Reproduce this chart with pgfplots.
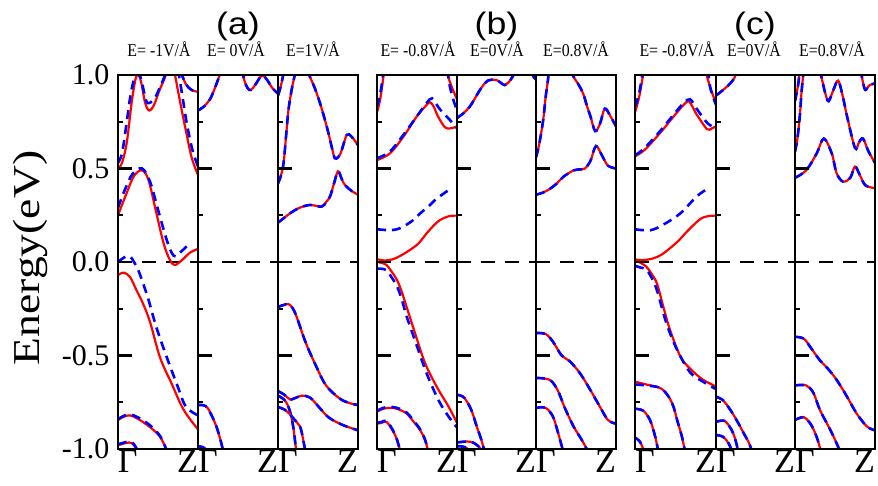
\documentclass[border=0pt]{standalone}
\usepackage{fontspec}
\setmainfont{Liberation Serif}
\newfontfamily\sansf{Liberation Sans}
\usepackage{pgfplots}
\pgfplotsset{compat=1.18}
\pgfplotsset{
  band/.style={scale only axis, width=80pt, height=374pt, anchor=south west,
    xmin=0, xmax=1, ymin=-1, ymax=1, axis on top,
    axis line style={line width=2.4pt},
    xtick={0,1}, xticklabels={\rlap{Γ},\llap{Z}},
    xticklabel style={font=\fontsize{34}{36}\selectfont, yshift=2pt},
    xtick style={draw=none},
    ytick={-1,-0.5,0,0.5,1}, minor ytick={-0.75,-0.25,0.25,0.75},
    ytick pos=left, tick align=inside,
    major tick length=14pt, minor tick length=5pt,
    ytick style={line width=2.4pt, black},
    minor y tick style={line width=1.6pt, black},
    yticklabels={}, 
  },
  rl/.style={red, line width=2.2pt, smooth, tension=0.55, no markers},
  bl/.style={blue, line width=2.6pt, smooth, tension=0.55, no markers, dash pattern=on 9pt off 6pt},
  zl/.style={black, line width=2.2pt, no markers, dash pattern=on 14pt off 10pt},
}
\newcommand\rb[1]{\addplot[rl] coordinates {#1};}
\newcommand\bb[1]{\addplot[bl] coordinates {#1};}
\newcommand\both[1]{\addplot[rl] coordinates {#1};\addplot[bl] coordinates {#1};}
\newcommand\zero{\addplot[zl] coordinates {(0,0)(1,0)};}
\begin{document}
\begin{tikzpicture}[x=1pt,y=1pt]
\path[use as bounding box] (0,0) rectangle (878,485);
% ---------------- (a)-1
\begin{axis}[band, at={(118pt,36pt)},
  yticklabels={\mbox{-1.0},\mbox{-0.5},\mbox{0.0},\mbox{0.5},\mbox{1.0}},
  yticklabel style={font=\fontsize{30}{32}\selectfont, xshift=-5pt}]
\zero
\rb{(0,0.50)(0.05,0.53)(0.11,0.64)(0.17,0.85)(0.22,0.98)(0.255,1.0)(0.29,0.96)(0.34,0.85)(0.39,0.81)(0.45,0.84)(0.52,0.92)(0.58,0.98)(0.62,1.03)}
\rb{(0.70,1.03)(0.77,0.87)(0.84,0.72)(0.92,0.56)(1.0,0.465)}
\rb{(0.78,1.02)(0.85,0.95)(0.92,0.92)(1.0,0.91)}
\rb{(0,0.25)(0.1,0.36)(0.2,0.46)(0.3,0.49)(0.38,0.44)(0.47,0.28)(0.57,0.10)(0.65,0.01)(0.71,-0.016)(0.8,0.01)(0.9,0.05)(1.0,0.07)}
\rb{(0,-0.07)(0.07,-0.057)(0.15,-0.08)(0.23,-0.15)(0.31,-0.22)(0.40,-0.32)(0.525,-0.51)(0.67,-0.65)(0.82,-0.79)(1.0,-0.895)}
\rb{(0,-0.845)(0.15,-0.82)(0.36,-0.87)(0.525,-0.935)(0.62,-1.02)}
\rb{(0,-0.98)(0.14,-0.965)(0.2,-0.98)(0.26,-1.02)}
\bb{(0,0.53)(0.05,0.58)(0.1,0.72)(0.16,0.9)(0.22,1.0)(0.28,0.99)(0.33,0.9)(0.37,0.85)(0.45,0.87)(0.52,0.93)(0.58,0.99)(0.61,1.03)}
\bb{(0.75,1.03)(0.8,0.9)(0.86,0.74)(0.93,0.6)(1.0,0.51)}
\bb{(0.78,1.02)(0.85,0.95)(0.92,0.92)(1.0,0.91)}
\bb{(0,0.29)(0.08,0.38)(0.18,0.47)(0.3,0.50)(0.4,0.43)(0.5,0.28)(0.6,0.13)(0.67,0.05)(0.72,0.03)(0.8,0.06)(0.9,0.10)}
\bb{(0,0.0)(0.08,0.025)(0.15,0.03)(0.2,0.0)(0.25,-0.04)(0.31,-0.11)(0.38,-0.2)(0.48,-0.35)(0.61,-0.51)(0.75,-0.67)(0.85,-0.775)(1.0,-0.82)}
\bb{(0,-0.84)(0.15,-0.815)(0.36,-0.86)(0.525,-0.93)(0.62,-1.02)}
\bb{(0,-0.975)(0.14,-0.96)(0.2,-0.975)(0.26,-1.02)}
\end{axis}
% ---------------- (a)-2
\begin{axis}[band, at={(198pt,36pt)}]
\zero
\both{(0,0.81)(0.07,0.83)(0.15,0.87)(0.22,0.94)(0.27,1.0)(0.29,1.03)}
\both{(0.55,1.03)(0.58,0.97)(0.62,0.93)(0.66,0.92)(0.72,0.95)(0.78,0.99)(0.82,0.995)(0.87,0.97)(0.93,0.93)(1.0,0.9)}
\both{(0,-0.765)(0.05,-0.765)(0.11,-0.775)(0.17,-0.82)(0.23,-0.88)(0.28,-0.95)(0.32,-1.02)}
\both{(0,-0.985)(0.06,-0.99)(0.12,-1.01)}
\end{axis}
% ---------------- (a)-3
\begin{axis}[band, at={(278pt,36pt)}]
\zero
\both{(0,0.89)(0.035,0.94)(0.07,1.01)}
\both{(0,0.42)(0.035,0.46)(0.07,0.53)(0.1,0.67)(0.13,0.81)(0.17,0.92)(0.21,1.0)(0.23,1.03)}
\both{(0.37,1.03)(0.39,1.0)(0.46,0.93)(0.525,0.85)(0.58,0.77)(0.63,0.69)(0.68,0.6)(0.71,0.555)(0.75,0.56)(0.79,0.59)(0.86,0.68)(0.92,0.67)(1.0,0.625)}
\both{(0,0.21)(0.15,0.26)(0.27,0.29)(0.4,0.305)(0.545,0.296)(0.6,0.32)(0.65,0.35)(0.7,0.42)(0.75,0.485)(0.8,0.44)(0.84,0.41)(0.92,0.38)(1.0,0.36)}
\both{(0,-0.24)(0.07,-0.23)(0.13,-0.225)(0.18,-0.245)(0.23,-0.29)(0.35,-0.435)(0.48,-0.56)(0.6,-0.66)(0.77,-0.73)(0.9,-0.755)(1.0,-0.765)}
\both{(0,-0.69)(0.08,-0.71)(0.15,-0.735)(0.2,-0.73)(0.3,-0.715)(0.4,-0.725)(0.5,-0.77)(0.63,-0.83)(0.8,-0.87)(1.0,-0.9)}
\both{(0,-0.715)(0.06,-0.73)(0.11,-0.755)(0.15,-0.8)(0.19,-0.88)(0.23,-1.02)}
\both{(0,-0.775)(0.085,-0.79)(0.14,-0.81)(0.2,-0.84)(0.275,-0.88)(0.31,-0.94)(0.345,-1.02)}
\end{axis}
% ---------------- (b)-1
\begin{axis}[band, at={(377pt,36pt)}]
\zero
\rb{(0,0.80)(0.04,0.87)(0.08,0.99)(0.09,1.03)}
\rb{(0.87,1.03)(0.89,0.99)(0.94,0.93)(1.0,0.87)}
\rb{(0,0.545)(0.16,0.58)(0.33,0.67)(0.5,0.78)(0.6,0.83)(0.66,0.855)(0.71,0.83)(0.76,0.78)(0.85,0.72)(0.92,0.715)(1.0,0.725)}
\rb{(0,0.015)(0.1,0.008)(0.2,0.015)(0.3,0.035)(0.41,0.064)(0.52,0.1)(0.62,0.153)(0.72,0.2)(0.79,0.225)(0.9,0.245)(1.0,0.248)}
\rb{(0,0.0)(0.06,-0.005)(0.12,-0.016)(0.18,-0.05)(0.25,-0.096)(0.31,-0.16)(0.37,-0.24)(0.475,-0.38)(0.6,-0.54)(0.75,-0.67)(0.89,-0.77)(1.0,-0.86)}
\rb{(0,-0.80)(0.08,-0.785)(0.16,-0.78)(0.25,-0.785)(0.37,-0.81)(0.45,-0.85)(0.54,-0.9)(0.6,-0.95)(0.645,-1.02)}
\rb{(0,-0.865)(0.06,-0.86)(0.12,-0.855)(0.2,-0.905)(0.25,-0.95)(0.295,-1.02)}
\bb{(0,0.83)(0.04,0.9)(0.07,0.98)(0.08,1.03)}
\bb{(0.88,1.03)(0.91,0.94)(0.96,0.86)(1.0,0.81)}
\bb{(0,0.555)(0.16,0.59)(0.33,0.68)(0.5,0.78)(0.62,0.85)(0.69,0.875)(0.78,0.82)(0.91,0.76)(1.0,0.715)}
\bb{(0,0.175)(0.08,0.172)(0.16,0.17)(0.25,0.175)(0.33,0.19)(0.44,0.22)(0.54,0.26)(0.65,0.3)(0.75,0.34)(0.93,0.395)}
\bb{(0,-0.036)(0.06,-0.036)(0.12,-0.045)(0.18,-0.08)(0.25,-0.13)(0.31,-0.2)(0.37,-0.29)(0.5,-0.45)(0.62,-0.595)(0.77,-0.74)(0.9,-0.83)(1.0,-0.885)}
\bb{(0,-0.795)(0.08,-0.78)(0.16,-0.775)(0.25,-0.78)(0.37,-0.805)(0.45,-0.845)(0.54,-0.895)(0.6,-0.95)(0.645,-1.02)}
\bb{(0,-0.86)(0.06,-0.855)(0.12,-0.85)(0.2,-0.9)(0.25,-0.95)(0.295,-1.02)}
\end{axis}
% ---------------- (b)-2
\begin{axis}[band, width=79pt, at={(457pt,36pt)}]
\zero
\both{(0,0.77)(0.08,0.795)(0.16,0.83)(0.22,0.87)(0.29,0.92)(0.35,0.955)(0.39,0.97)(0.45,0.975)(0.5,0.973)(0.55,0.96)(0.6,0.946)(0.65,0.96)(0.71,0.995)(0.73,1.03)}
\both{(0.95,1.01)(0.97,0.99)(1.0,0.975)}
\both{(0,-0.71)(0.05,-0.715)(0.1,-0.73)(0.18,-0.79)(0.25,-0.88)(0.3,-0.94)(0.355,-1.02)}
\both{(0,-0.965)(0.12,-0.96)(0.2,-0.965)(0.27,-0.985)(0.34,-1.02)}
\both{(0,-0.985)(0.1,-0.99)(0.2,-1.02)}
\end{axis}
% ---------------- (b)-3
\begin{axis}[band, at={(536pt,36pt)}]
\zero
\both{(0,0.56)(0.04,0.63)(0.09,0.76)(0.12,0.88)(0.15,0.975)(0.16,1.03)}
\both{(0.45,1.03)(0.47,0.99)(0.53,0.95)(0.59,0.90)(0.64,0.83)(0.68,0.78)(0.74,0.70)(0.8,0.74)(0.86,0.82)(0.93,0.78)(1.0,0.725)}
\both{(0,0.36)(0.08,0.37)(0.17,0.39)(0.26,0.42)(0.34,0.455)(0.47,0.49)(0.55,0.495)(0.61,0.50)(0.68,0.54)(0.75,0.62)(0.83,0.565)(0.9,0.515)(1.0,0.5)}
\both{(0,-0.38)(0.12,-0.385)(0.21,-0.425)(0.32,-0.50)(0.42,-0.53)(0.55,-0.595)(0.68,-0.685)(0.8,-0.775)(0.9,-0.845)(1.0,-0.865)}
\both{(0,-0.62)(0.17,-0.63)(0.27,-0.685)(0.36,-0.78)(0.47,-0.88)(0.57,-0.95)(0.66,-1.02)}
\both{(0,-0.78)(0.12,-0.78)(0.21,-0.825)(0.27,-0.905)(0.345,-1.02)}
\end{axis}
% ---------------- (c)-1
\begin{axis}[band, width=81pt, at={(635pt,36pt)}]
\zero
\rb{(0,0.80)(0.05,0.88)(0.1,1.0)(0.11,1.03)}
\rb{(0.87,1.03)(0.89,0.99)(0.94,0.92)(0.99,0.86)(1.0,0.855)}
\rb{(0,0.565)(0.12,0.6)(0.31,0.69)(0.48,0.78)(0.6,0.84)(0.66,0.86)(0.71,0.83)(0.76,0.79)(0.89,0.71)(0.95,0.715)(1.0,0.725)}
\rb{(0,0.014)(0.1,0.01)(0.23,0.02)(0.33,0.04)(0.43,0.073)(0.54,0.115)(0.64,0.162)(0.8,0.228)(0.9,0.245)(1.0,0.248)}
\rb{(0,0.01)(0.07,-0.005)(0.14,-0.025)(0.2,-0.06)(0.27,-0.114)(0.35,-0.24)(0.43,-0.36)(0.56,-0.505)(0.68,-0.57)(0.84,-0.63)(1.0,-0.665)}
\rb{(0,-0.64)(0.14,-0.655)(0.29,-0.67)(0.36,-0.69)(0.43,-0.73)(0.48,-0.78)(0.52,-0.845)(0.58,-0.935)(0.62,-1.02)}
\rb{(0,-0.785)(0.1,-0.795)(0.185,-0.845)(0.25,-0.935)(0.29,-1.02)}
\rb{(0,-0.94)(0.06,-0.96)(0.12,-1.02)}
\bb{(0,0.83)(0.05,0.9)(0.09,1.0)(0.1,1.03)}
\bb{(0.9,1.03)(0.93,0.93)(1.0,0.84)}
\bb{(0,0.57)(0.12,0.61)(0.31,0.7)(0.48,0.79)(0.6,0.85)(0.68,0.87)(0.76,0.82)(0.9,0.74)(1.0,0.72)}
\bb{(0,0.175)(0.19,0.17)(0.35,0.2)(0.56,0.26)(0.76,0.35)(0.89,0.39)}
\bb{(0,-0.02)(0.07,-0.03)(0.14,-0.04)(0.2,-0.08)(0.27,-0.15)(0.39,-0.33)(0.52,-0.47)(0.68,-0.59)(0.84,-0.64)(1.0,-0.68)}
\bb{(0,-0.655)(0.14,-0.66)(0.29,-0.67)(0.36,-0.69)(0.43,-0.73)(0.48,-0.78)(0.52,-0.845)(0.58,-0.935)(0.62,-1.02)}
\bb{(0,-0.785)(0.1,-0.795)(0.185,-0.845)(0.25,-0.935)(0.29,-1.02)}
\bb{(0,-0.94)(0.06,-0.96)(0.12,-1.02)}
\end{axis}
% ---------------- (c)-2
\begin{axis}[band, width=79pt, at={(716pt,36pt)}]
\zero
\both{(0,0.89)(0.09,0.92)(0.18,0.955)(0.24,0.99)(0.26,1.03)}
\both{(0,-0.72)(0.09,-0.74)(0.18,-0.79)(0.26,-0.845)(0.35,-0.915)(0.42,-0.97)(0.46,-1.02)}
\both{(0,-0.855)(0.11,-0.85)(0.2,-0.9)(0.245,-0.95)(0.285,-1.02)}
\both{(0,-0.925)(0.09,-0.935)(0.16,-0.97)(0.21,-1.02)}
\end{axis}
% ---------------- (c)-3
\begin{axis}[band, at={(795pt,36pt)}]
\zero
\both{(0,0.86)(0.04,0.95)(0.06,1.03)}
\both{(0,0.59)(0.03,0.66)(0.06,0.78)(0.08,0.9)(0.1,0.99)(0.11,1.03)}
\both{(0.31,1.03)(0.33,0.99)(0.38,0.9)(0.42,0.86)(0.48,0.92)(0.54,0.97)(0.6,0.88)(0.65,0.78)(0.75,0.61)(0.8,0.64)(0.85,0.66)(0.92,0.59)(1.0,0.53)}
\both{(0.82,1.03)(0.85,0.96)(0.88,0.92)(0.93,0.945)(1.0,0.955)}
\both{(0,0.45)(0.14,0.49)(0.27,0.58)(0.36,0.66)(0.46,0.58)(0.52,0.475)(0.6,0.43)(0.69,0.45)(0.75,0.51)(0.81,0.465)(0.88,0.41)(1.0,0.395)}
\both{(0,-0.40)(0.11,-0.41)(0.2,-0.46)(0.31,-0.525)(0.41,-0.57)(0.52,-0.63)(0.65,-0.72)(0.77,-0.81)(0.9,-0.88)(1.0,-0.9)}
\both{(0,-0.66)(0.14,-0.66)(0.23,-0.70)(0.31,-0.79)(0.42,-0.88)(0.5,-0.95)(0.57,-1.02)}
\both{(0,-0.845)(0.11,-0.83)(0.2,-0.87)(0.27,-0.935)(0.33,-1.02)}
\end{axis}
% ---------------- texts
\begin{scope}[every node/.style={font=\sansf\fontsize{31}{33}\selectfont}]
\node at (238,459) {\scalebox{1.15}[1]{(a)}};
\node at (496.5,459) {\scalebox{1.15}[1]{(b)}};
\node at (755,459) {\scalebox{1.15}[1]{(c)}};
\end{scope}
\begin{scope}[every node/.style={font=\fontsize{18}{20}\selectfont}]
\node at (159,436) {\scalebox{0.88}[1]{E= -1V/Å}};
\node at (236,436) {\scalebox{0.88}[1]{E= 0V/Å}};
\node at (313,436) {\scalebox{0.88}[1]{E=1V/Å}};
\node at (418,436) {\scalebox{0.88}[1]{E= -0.8V/Å}};
\node at (497,436) {\scalebox{0.88}[1]{E=0V/Å}};
\node at (576,436) {\scalebox{0.88}[1]{E=0.8V/Å}};
\node at (677,436) {\scalebox{0.88}[1]{E= -0.8V/Å}};
\node at (754,436) {\scalebox{0.88}[1]{E=0V/Å}};
\node at (832,436) {\scalebox{0.88}[1]{E=0.8V/Å}};
\end{scope}
\node[rotate=90, font=\fontsize{38}{40}\selectfont] at (30,227) {\scalebox{1.2}[1]{Energy(eV)}};
\end{tikzpicture}
\end{document}
